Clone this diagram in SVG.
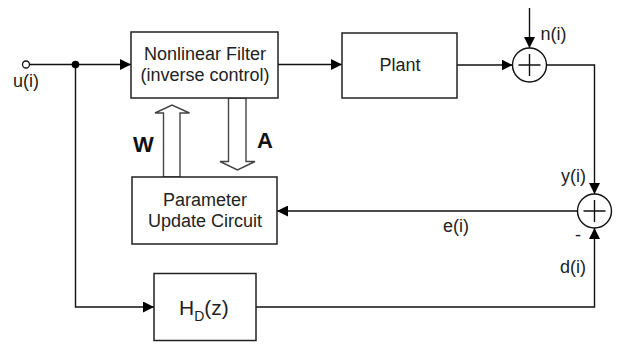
<svg xmlns="http://www.w3.org/2000/svg" width="623" height="347" viewBox="0 0 623 347">
<style>
  .box { fill: #ffffff; stroke: #222222; stroke-width: 1.5; }
  .sum { fill: #ffffff; stroke: #111111; stroke-width: 1.4; }
  .wire { fill: none; stroke: #111111; stroke-width: 1.4; }
  .hollow { fill: #ffffff; stroke: #444444; stroke-width: 1.4; }
  .t { font-family: "Liberation Sans", Arial, sans-serif; font-size: 18px; fill: #222222; }
  .c { text-anchor: middle; }
  .b { font-weight: bold; font-size: 22px; fill: #111111; }
  .hd { font-size: 21px; }
  .sub { font-size: 14px; }
</style>
<defs>
  <marker id="ah" markerUnits="userSpaceOnUse" markerWidth="12" markerHeight="11" refX="11" refY="5.5" orient="auto">
    <path d="M0,0 L11,5.5 L0,11 z" fill="#000000"/>
  </marker>
</defs>
<rect width="623" height="347" fill="#ffffff"/>

<g id="connectors">
  <path class="wire" d="M29.5,64.5 H131" marker-end="url(#ah)"/>
  <path class="wire" d="M278,64.5 H342" marker-end="url(#ah)"/>
  <path class="wire" d="M457,65 H512.5" marker-end="url(#ah)"/>
  <path class="wire" d="M529.5,8 V48" marker-end="url(#ah)"/>
  <path class="wire" d="M546.5,65 H594.5 V194" marker-end="url(#ah)"/>
  <path class="wire" d="M577.5,211 H277" marker-end="url(#ah)"/>
  <path class="wire" d="M75.5,64.5 V307 H154" marker-end="url(#ah)"/>
  <path class="wire" d="M256,307 H594.5 V228" marker-end="url(#ah)"/>
  <polygon id="arrowW" class="hollow" points="163.5,177 163.5,113 155,113 172,105 189.5,113 180,113 180,177"/>
  <polygon id="arrowA" class="hollow" points="228.5,98 228.5,161.5 220,161.5 237.5,170 255,161.5 246,161.5 246,98"/>
  <circle cx="26" cy="64.5" r="3.5" fill="#ffffff" stroke="#111111" stroke-width="1.3"/>
  <circle cx="75.5" cy="64.5" r="3.8" fill="#000000"/>
  <text class="t c" x="26" y="87">u(i)</text>
  <text class="t b" x="133" y="151.5">W</text>
  <text class="t b" x="257" y="147.5">A</text>
  <text class="t" x="540.5" y="40">n(i)</text>
  <text class="t" x="586" y="181.5" text-anchor="end">y(i)</text>
  <text class="t c" x="456" y="231.5">e(i)</text>
  <text class="t c" x="578" y="241">-</text>
  <text class="t" x="586" y="273" text-anchor="end">d(i)</text>
</g>

<g id="nonlinear-filter">
  <rect class="box" x="131" y="32" width="147" height="66"/>
  <text class="t c" x="205" y="60">Nonlinear Filter</text>
  <text class="t c" x="205" y="81">(inverse control)</text>
</g>

<g id="plant">
  <rect class="box" x="342" y="33" width="115" height="65"/>
  <text class="t c" x="400" y="71">Plant</text>
</g>

<g id="sum1">
  <circle class="sum" cx="529.5" cy="65" r="17"/>
  <path class="wire" d="M529.5,54 V76 M518.5,65 H540.5"/>
</g>

<g id="sum2">
  <circle class="sum" cx="594.5" cy="211" r="17"/>
  <path class="wire" d="M594.5,200 V222 M583.5,211 H605.5"/>
</g>

<g id="parameter-update">
  <rect class="box" x="132" y="177" width="145" height="67"/>
  <text class="t c" x="205" y="206">Parameter</text>
  <text class="t c" x="205" y="226.5">Update Circuit</text>
</g>

<g id="hd">
  <rect class="box" x="154" y="273.5" width="102" height="67"/>
  <text class="t hd" x="179" y="315">H<tspan class="sub" dy="5.5">D</tspan><tspan dy="-5.5">(z)</tspan></text>
</g>
</svg>
